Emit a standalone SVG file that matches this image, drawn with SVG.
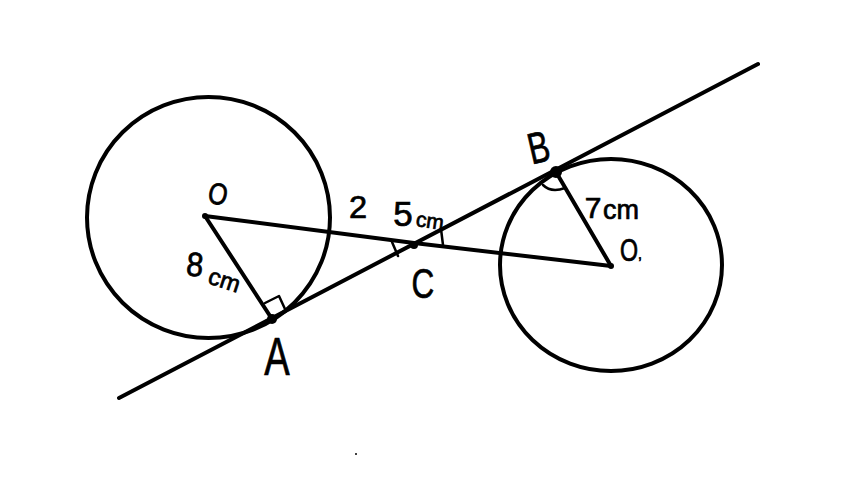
<svg xmlns="http://www.w3.org/2000/svg" width="860" height="498" viewBox="0 0 860 498">
<style>
.l{fill:none;stroke:#000;stroke-width:4;stroke-linecap:round;stroke-linejoin:round}
.m{fill:none;stroke:#000;stroke-width:2.500;stroke-linecap:round;stroke-linejoin:round}
text{font-family:"Liberation Sans",Arial,sans-serif;fill:#000;text-anchor:middle;stroke:#000;stroke-width:.7}
</style>
<rect width="860" height="498" fill="#fff"/>
<g id="circles">
<ellipse class="l" cx="208.500" cy="217.500" rx="121.500" ry="120.500"/>
<ellipse class="l" cx="611" cy="265" rx="111" ry="106"/>
</g>
<g id="connectors">
<path class="l" d="M119 398L758 64"/>
<path class="l" d="M205 216L414 243L611 266"/>
<path class="l" d="M205 216L272 319"/>
<path class="l" d="M611 266L556 172"/>
<path class="m" d="M265 303L279 296L285 309"/>
<path class="m" d="M392 242L398 256"/>
<path class="m" d="M441 229L443 245"/>
<path class="m" d="M543 185Q551 193 565 188"/>
</g>
<g id="points">
<circle cx="272" cy="319" r="5"/>
<circle cx="414" cy="245" r="4"/>
<circle cx="556" cy="172" r="6"/>
<circle cx="611" cy="266" r="3"/>
<circle cx="205" cy="216" r="3"/>
<circle cx="356" cy="454" r="1"/>
</g>
<g id="labels">
<text transform="translate(216 204) rotate(12) scale(.95 1.150)" font-size="26">O</text>
<text transform="translate(194 276) rotate(5) scale(.95 1.050)" font-size="32">8</text>
<text transform="translate(222 288) rotate(18)" font-size="24">cm</text>
<text transform="translate(277 375) scale(.72 1)" font-size="53">A</text>
<text transform="translate(358 218) scale(1.050 1)" font-size="31">2</text>
<text transform="translate(403 226)" font-size="35">5</text>
<text transform="translate(429 228) rotate(8)" font-size="21">cm</text>
<text transform="translate(423 298) scale(.75 1)" font-size="42">C</text>
<text transform="translate(542 162) rotate(-13) scale(.72 1)" font-size="44">B</text>
<text transform="translate(593 218)" font-size="30">7</text>
<text transform="translate(621 219)" font-size="27">cm</text>
<text transform="translate(629 261) scale(.8 1.050)" font-size="29">O</text>
<text x="640" y="259" font-size="14">,</text>
</g>
</svg>
